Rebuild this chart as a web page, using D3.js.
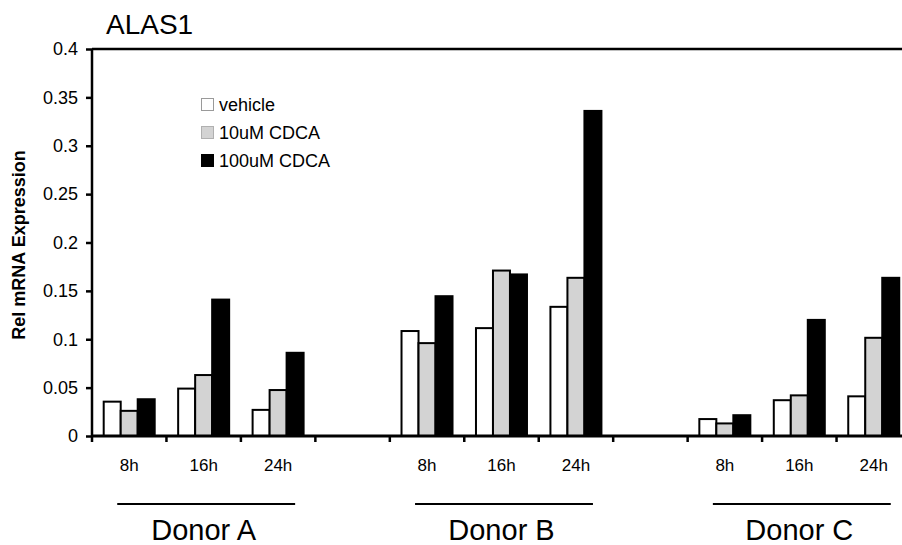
<!DOCTYPE html>
<html>
<head>
<meta charset="utf-8">
<script src="https://cdn.jsdelivr.net/npm/d3@7"></script>
<style>
  body { margin: 0; background: #fff; }
  svg { display: block; font-family: "Liberation Sans", Arial, sans-serif; }
</style>
</head>
<body>
<svg id="chart" width="902" height="545"></svg>
<script>
// slots along the x axis, "" = empty gap between donors
var slots = ["A8", "A16", "A24", "gap1", "B8", "B16", "B24", "gap2", "C8", "C16", "C24"];
var slotLabels = ["8h", "16h", "24h", "", "8h", "16h", "24h", "", "8h", "16h", "24h"];
var donors = ["Donor A", "Donor B", "Donor C"];
var series = ["vehicle", "10uM CDCA", "100uM CDCA"];

// values per donor: 8h, 16h, 24h
var vehicle = [0.0355, 0.049, 0.027, 0.1085, 0.1115, 0.1335, 0.0175, 0.037, 0.041];
var cdca10 = [0.026, 0.063, 0.0475, 0.096, 0.171, 0.1635, 0.013, 0.042, 0.1015];
var cdca100 = [0.038, 0.141, 0.086, 0.1445, 0.167, 0.336, 0.0215, 0.12, 0.1635];

var yTicks = [0, 0.05, 0.1, 0.15, 0.2, 0.25, 0.3, 0.35, 0.4];

var fills = ["#ffffff", "#d3d3d3", "#000000"];
var swatchStroke = ["#9a9a9a", "#b0b0b0", "#000000"];

var draw_chart = function () {
    var svg = d3.select("svg#chart");

    var left = 92, right = 911, top = 49, bottom = 436;

    var x = d3.scaleBand().domain(slots).range([left, right]).padding(0);
    var x1 = d3.scaleBand().domain(series).range([11.7, 62.7]).padding(0);
    var y = d3.scaleLinear().domain([0, 0.4]).range([bottom, top]);

    // data slots that carry bars (skip the gaps)
    var barSlots = slots.filter(function (s) { return s.indexOf("gap") < 0; });
    var allValues = [vehicle, cdca10, cdca100];

    var rows = [];
    barSlots.forEach(function (s, i) {
        series.forEach(function (name, k) {
            rows.push({ slot: s, series: name, k: k, value: allValues[k][i] });
        });
    });

    // title
    svg.append("text")
        .attr("x", 106).attr("y", 34)
        .attr("font-size", 28)
        .text("ALAS1");

    // top frame line
    svg.append("line")
        .attr("x1", left).attr("x2", 902)
        .attr("y1", top).attr("y2", top)
        .attr("stroke", "#000").attr("stroke-width", 2.5);

    // bars
    svg.append("g").selectAll("rect")
        .data(rows)
        .join("rect")
        .attr("x", function (d) { return x(d.slot) + x1(d.series); })
        .attr("width", x1.bandwidth())
        .attr("y", function (d) { return y(d.value); })
        .attr("height", function (d) { return y(0) - y(d.value); })
        .attr("fill", function (d) { return fills[d.k]; })
        .attr("stroke", "#000")
        .attr("stroke-width", 2);

    // y axis
    var yAxis = svg.append("g")
        .attr("transform", "translate(" + left + ",0)")
        .call(d3.axisLeft(y)
            .tickValues(yTicks)
            .tickSize(6)
            .tickPadding(8)
            .tickFormat(function (d) { return d === 0 ? "0" : String(+d.toFixed(2)); }));
    yAxis.select(".domain").attr("stroke-width", 2.5).attr("d", "M0," + top + "V" + bottom);
    yAxis.selectAll(".tick line").attr("stroke-width", 2.5);
    yAxis.selectAll(".tick text")
        .attr("font-size", 18)
        .attr("font-family", "Liberation Sans, Arial, sans-serif")
        .attr("fill", "#000");

    // x axis: ticks on the band edges
    var edges = slots.map(function (s) { return x(s); });
    var xAxis = svg.append("g");
    xAxis.append("line")
        .attr("x1", left).attr("x2", 902)
        .attr("y1", bottom).attr("y2", bottom)
        .attr("stroke", "#000").attr("stroke-width", 3);
    xAxis.selectAll("line.tick")
        .data(edges)
        .join("line")
        .classed("tick", true)
        .attr("x1", function (d) { return d; }).attr("x2", function (d) { return d; })
        .attr("y1", bottom).attr("y2", bottom + 6)
        .attr("stroke", "#000").attr("stroke-width", 2.5);

    // hour labels
    svg.append("g").selectAll("text")
        .data(slots.filter(function (s, i) { return slotLabels[i] !== ""; }))
        .join("text")
        .attr("x", function (d) { return x(d) + x.bandwidth() / 2; })
        .attr("y", 471)
        .attr("text-anchor", "middle")
        .attr("font-size", 17)
        .text(function (d) { return slotLabels[slots.indexOf(d)]; });

    // donor brackets, centred on the 16h slot
    var mids = ["A16", "B16", "C16"];
    var g = svg.append("g").selectAll("g")
        .data(donors)
        .join("g");
    g.append("line")
        .attr("x1", function (d, i) { return x(mids[i]) - x.bandwidth() - 12 + x.bandwidth() / 2; })
        .attr("x2", function (d, i) { return x(mids[i]) + x.bandwidth() + 17 + x.bandwidth() / 2; })
        .attr("y1", 504).attr("y2", 504)
        .attr("stroke", "#000").attr("stroke-width", 2);
    g.append("text")
        .attr("x", function (d, i) { return x(mids[i]) + x.bandwidth() / 2; })
        .attr("y", 540)
        .attr("text-anchor", "middle")
        .attr("font-size", 29)
        .text(function (d) { return d; });

    // y label
    svg.append("text")
        .attr("transform", "translate(25,245) rotate(-90)")
        .attr("text-anchor", "middle")
        .attr("font-size", 18)
        .attr("font-weight", "bold")
        .text("Rel mRNA Expression");

    // legend
    var legend = svg.append("g").selectAll("g")
        .data(series)
        .join("g")
        .attr("transform", function (d, i) { return "translate(201," + (98 + i * 28) + ")"; });
    legend.append("rect")
        .attr("x", 0.5).attr("y", 0.5)
        .attr("width", 12).attr("height", 12)
        .attr("fill", function (d, i) { return fills[i]; })
        .attr("stroke", function (d, i) { return swatchStroke[i]; })
        .attr("stroke-width", 1);
    legend.append("text")
        .attr("x", 18).attr("y", 13)
        .attr("font-size", 18)
        .text(function (d) { return d; });
};

window.onload = draw_chart;
</script>
</body>
</html>
